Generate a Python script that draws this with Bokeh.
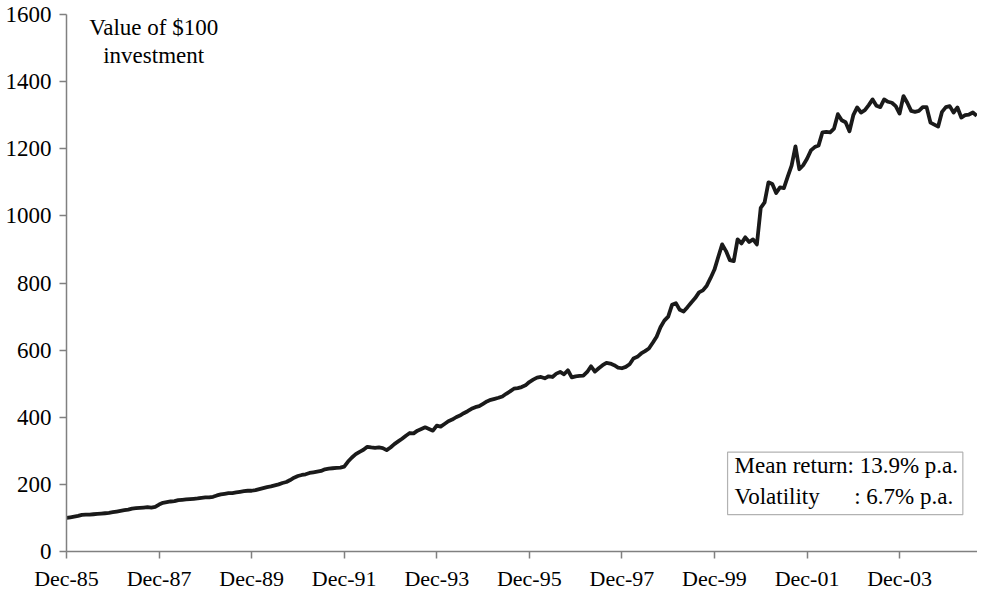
from bokeh.plotting import figure
from bokeh.models import FixedTicker, Range1d, Label, BoxAnnotation, ColumnDataSource
from bokeh.embed import file_html
from bokeh.resources import INLINE

# Monthly value of $100 invested, Dec-85 .. Aug-05
values = [
    100,
    102, 104, 106, 109, 110, 110, 111, 112, 113, 114, 115, 117,
    119, 121, 123, 125, 128, 129, 130, 131, 132, 131, 133, 140,
    145, 147, 149, 150, 153, 154, 155, 156, 157, 158, 160, 161,
    161, 163, 167, 170, 172, 174, 174, 176, 178, 180, 181, 181,
    183, 186, 189, 192, 194, 197, 200, 204, 207, 213, 220, 225,
    228, 230, 234, 236, 238, 240, 245, 247, 248, 249, 250, 253,
    268, 280, 290, 297, 303, 312, 310, 309, 310, 308, 302, 310,
    320, 328, 336, 345, 353, 352, 360, 365, 370, 365, 360, 375,
    372, 380, 388, 393, 400, 405, 412, 418, 425, 430, 433, 440,
    447, 452, 455, 458, 462, 470, 477, 485, 487, 490, 495, 505,
    512, 518, 520, 516, 522, 520, 530, 535, 528, 540, 519, 522,
    523, 524, 535, 552, 536, 546, 555, 562, 560, 555, 548, 546,
    550, 558, 575, 580, 590, 597, 605, 622, 640, 668, 688, 700,
    735, 740, 720, 715, 728, 742, 755, 772, 778, 792, 815, 840,
    878, 915, 895, 868, 865, 930, 918, 936, 922, 930, 915, 1024,
    1040, 1100, 1095, 1068, 1085, 1083, 1117, 1150, 1207, 1139, 1151, 1170,
    1195, 1205, 1210, 1249, 1250, 1249, 1260, 1303, 1285, 1279, 1252, 1300,
    1323, 1308, 1315, 1330, 1347, 1328, 1324, 1347, 1340, 1337, 1327, 1305,
    1357, 1337, 1313, 1310, 1313, 1324, 1324, 1278, 1272, 1266, 1310, 1324,
    1327, 1308, 1323, 1293, 1300, 1302, 1308, 1298,
]
months = list(range(len(values)))

tick_labels = ["Dec-85", "Dec-87", "Dec-89", "Dec-91", "Dec-93",
               "Dec-95", "Dec-97", "Dec-99", "Dec-01", "Dec-03"]
tick_step = 24
y_ticks = [0, 200, 400, 600, 800, 1000, 1200, 1400, 1600]

title_lines = ["Value of $100", "investment"]
stats_lines = ["Mean return: 13.9% p.a.",
               "Volatility\u00a0\u00a0\u00a0\u00a0\u00a0 : 6.7% p.a."]

FONT = "Liberation Serif"
FS = "23px"
FS_X = "22px"
AXIS_COLOR = "#808080"

p = figure(width=977, height=593, output_backend="svg", toolbar_location=None,
           x_range=Range1d(0, 236.2), y_range=Range1d(0, 1600),
           min_border_left=66, min_border_right=0, min_border_top=14,
           min_border_bottom=38)
p.outline_line_color = None
p.xgrid.grid_line_color = None
p.ygrid.grid_line_color = None
p.background_fill_color = "white"
p.border_fill_color = "white"

src = ColumnDataSource(dict(x=months, y=values))
p.line("x", "y", source=src, line_color="#1a1a1a", line_width=3.8, line_join="round")

tick_pos = [i * tick_step for i in range(len(tick_labels))]
p.xaxis.ticker = FixedTicker(ticks=tick_pos)
p.xaxis.major_label_overrides = {pos: lab for pos, lab in zip(tick_pos, tick_labels)}
p.yaxis.ticker = FixedTicker(ticks=y_ticks)

for ax in p.axis:
    ax.axis_line_color = AXIS_COLOR
    ax.axis_line_width = 1.5
    ax.major_tick_line_color = AXIS_COLOR
    ax.major_tick_line_width = 1.5
    ax.major_tick_in = 0
    ax.major_tick_out = 7
    ax.minor_tick_line_color = None
    ax.major_label_text_color = "black"
    ax.major_label_text_font = FONT
p.xaxis.major_label_text_font_size = FS_X
p.yaxis.major_label_text_font_size = FS
p.xaxis.major_label_standoff = 7
p.yaxis.major_label_standoff = 8

# Title text inside the plot
p.add_layout(Label(x=22.6, y=1562, text=title_lines[0], text_align="center",
                   text_baseline="middle", text_font=FONT, text_font_size=FS,
                   text_color="black"))
p.add_layout(Label(x=22.6, y=1477, text=title_lines[1], text_align="center",
                   text_baseline="middle", text_font=FONT, text_font_size=FS,
                   text_color="black"))

# Stats box
p.add_layout(BoxAnnotation(left=171.4, right=232.4, bottom=110, top=296,
                           fill_color="white", fill_alpha=1.0,
                           line_color="black", line_width=1.2))
p.add_layout(Label(x=173.2, y=255, text=stats_lines[0], text_align="left",
                   text_baseline="middle", text_font=FONT, text_font_size=FS,
                   text_color="black"))
p.add_layout(Label(x=173.2, y=163, text=stats_lines[1], text_align="left",
                   text_baseline="middle", text_font=FONT, text_font_size=FS,
                   text_color="black"))

open("out.html", "w").write(file_html(p, INLINE))
